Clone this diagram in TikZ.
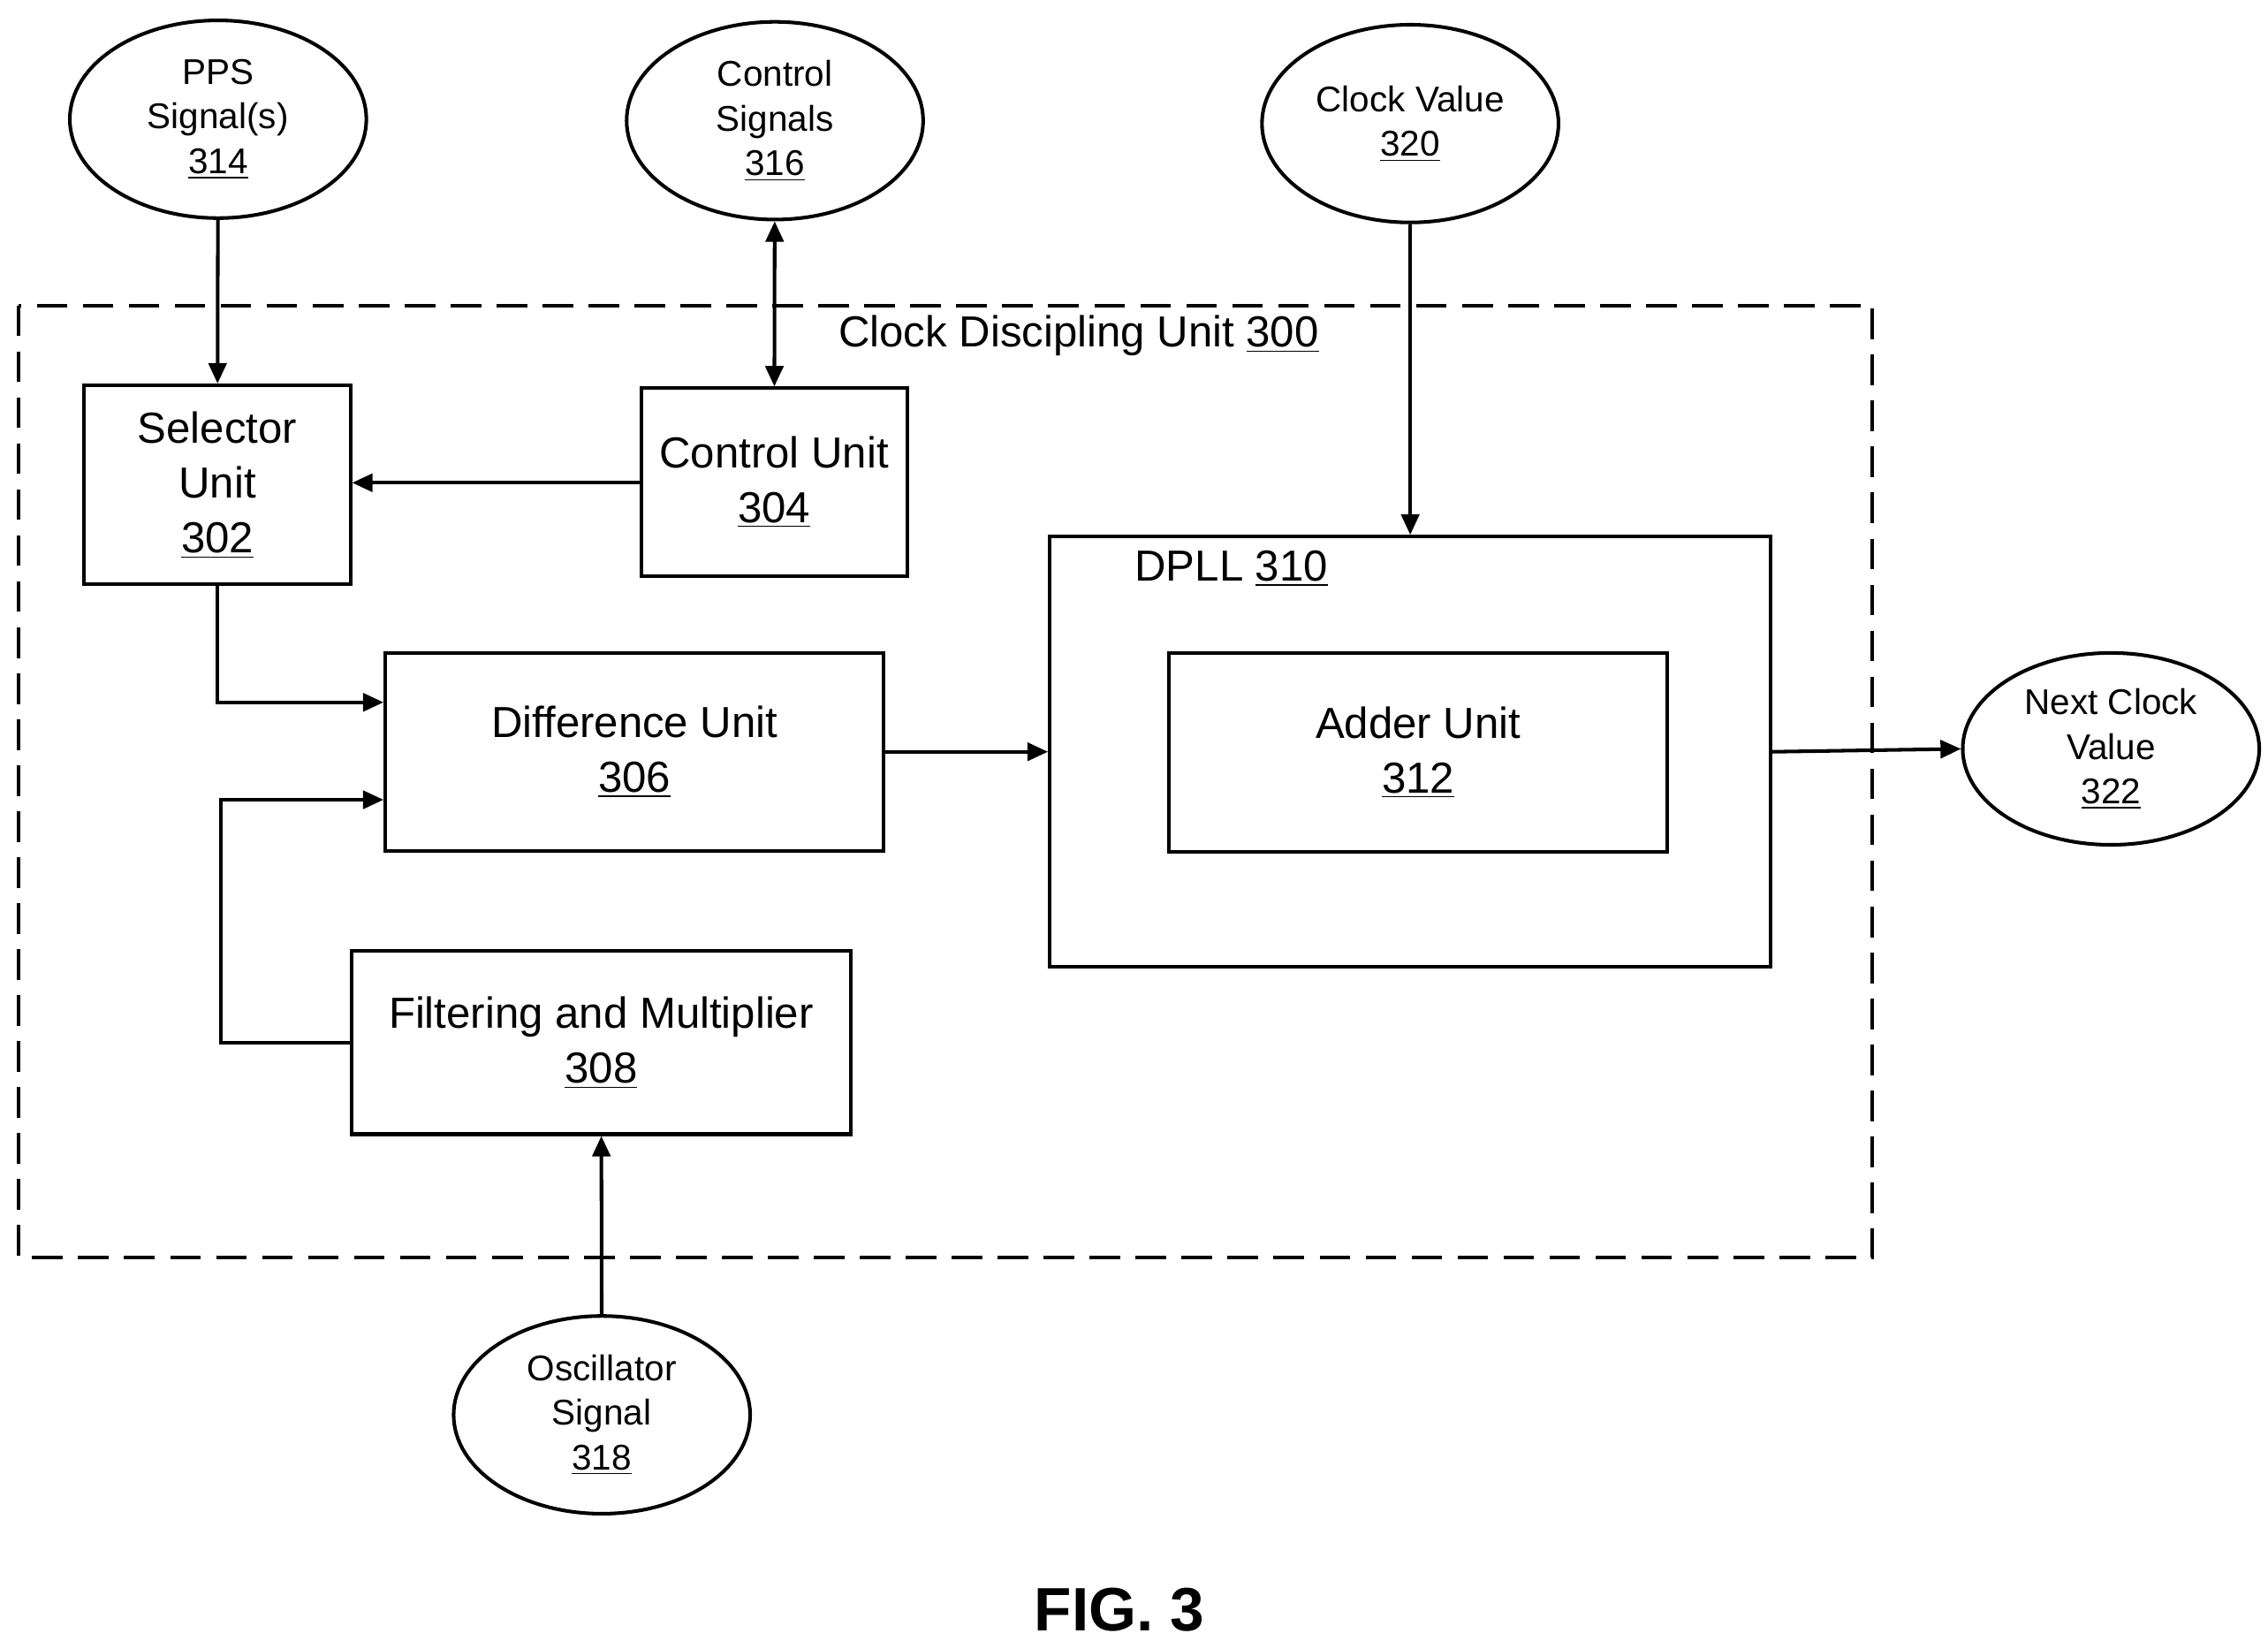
\documentclass[tikz,border=0pt]{standalone}
\usepackage{fontspec}
\setmainfont{Liberation Sans}
\usetikzlibrary{arrows.meta,positioning,shapes.geometric}
\tikzset{
  blk/.style={draw, line width=1.4pt, align=center, font=\fontsize{17}{21.5}\selectfont},
  sig/.style={draw, ellipse, line width=1.4pt, align=center, minimum width=4.08cm, minimum height=2.72cm, inner sep=0pt, font=\fontsize{14}{17.5}\selectfont},
  arr/.style={-{Triangle[length=8pt,width=7pt]}, line width=1.4pt},
}
\begin{document}
\begin{tikzpicture}[x=0.02cm,y=-0.02cm]
        \useasboundingbox (0,0) rectangle (1560,1128);
        % outer dashed unit
        \draw[line width=1.4pt, dash pattern=on 12pt off 6pt] (13,210) rectangle (1288,865);
        \node[font=\fontsize{17}{21}\selectfont] (cdu) at (742,231) {Clock Discipling Unit \underline{300}};
        % blocks
        \node[blk, minimum width=3.66cm, minimum height=2.74cm] (sel) at (149.5,333.5) {Selector\\Unit\\\underline{302}};
        \node[blk, minimum width=3.66cm, minimum height=2.58cm] (ctl) at (532.5,331.5) {Control Unit\\\underline{304}};
        \node[blk, minimum width=6.86cm, minimum height=2.72cm] (dif) at (436.5,517) {Difference Unit\\\underline{306}};
        \node[blk, minimum width=6.86cm, minimum height=2.52cm] (flt) at (413.5,717) {Filtering and Multiplier\\\underline{308}};
        \node[blk, minimum width=9.92cm, minimum height=5.92cm] (dpll) at (970,517) {};
        \node[font=\fontsize{17}{21}\selectfont] at (847,391) {DPLL \underline{310}};
        \node[blk, minimum width=6.86cm, minimum height=2.74cm] (add) at (975.5,517.5) {Adder Unit\\\underline{312}};
        % signals
        \node[sig] (pps) at (150,82) {PPS\\Signal(s)\\\underline{314}};
        \node[sig] (cs) at (533,83) {Control\\Signals\\\underline{316}};
        \node[sig] (cv) at (970,85) {Clock Value\\\underline{320}};
        \node[sig, minimum height=2.64cm] (ncv) at (1452,515) {Next Clock\\Value\\\underline{322}};
        \node[sig] (osc) at (414,973) {Oscillator\\Signal\\\underline{318}};
        % connectors
        \draw[arr] (pps) -- (sel);
        \draw[arr, {Triangle[length=8pt,width=7pt]}-{Triangle[length=8pt,width=7pt]}] (cs) -- (ctl);
        \draw[arr] (ctl.west |- 0,332) -- (sel.east |- 0,332);
        \draw[arr] (sel.south) |- (dif.west |- 0,483);
        \draw[arr] (flt.west) -| (152,550) -- (dif.west |- 0,550);
        \draw[arr] (osc) -- (flt);
        \draw[arr] (dif.east) -- (dpll.west |- dif.east);
        \draw[arr] (cv) -- (dpll.north);
        \draw[arr] (dpll.east) -- (ncv.west);
        \node[font=\bfseries\fontsize{24}{28}\selectfont] (fig) at (770,1107) {FIG. 3};
\end{tikzpicture}
\end{document}
